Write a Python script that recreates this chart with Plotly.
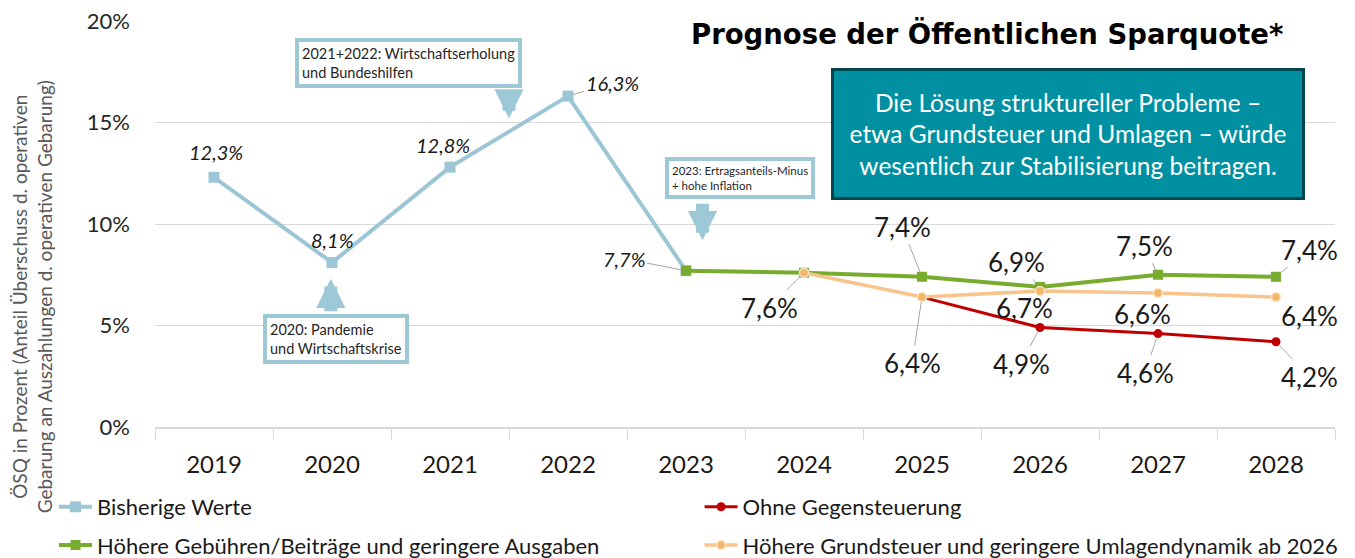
import plotly.graph_objects as go

years = ["2019", "2020", "2021", "2022", "2023", "2024", "2025", "2026", "2027", "2028"]

hist_years = ["2019", "2020", "2021", "2022", "2023"]
hist_vals = [12.3, 8.1, 12.8, 16.3, 7.7]

green_years = ["2023", "2024", "2025", "2026", "2027", "2028"]
green_vals = [7.7, 7.6, 7.4, 6.9, 7.5, 7.4]

red_years = ["2025", "2026", "2027", "2028"]
red_vals = [6.4, 4.9, 4.6, 4.2]

orange_years = ["2024", "2025", "2026", "2027", "2028"]
orange_vals = [7.6, 6.4, 6.7, 6.6, 6.4]

names = [
    "Bisherige Werte",
    "Höhere Gebühren/Beiträge und geringere Ausgaben",
    "Ohne Gegensteuerung",
    "Höhere Grundsteuer und geringere Umlagendynamik ab 2026",
]

y_tickvals = [0, 5, 10, 15, 20]
y_ticktext = ["0%", "5%", "10%", "15%", "20%"]

FONT = "Lato"
BLUE = "#9CC6D5"
GREEN = "#78AC2E"
RED = "#C00000"
ORANGE = "#F9C48C"
TEAL = "#0090A1"

fig = go.Figure()
fig.add_trace(go.Scatter(x=hist_years, y=hist_vals, name=names[0], mode="lines+markers",
                         line=dict(color=BLUE, width=4),
                         marker=dict(symbol="square", size=11, color=BLUE),
                         legend="legend"))
fig.add_trace(go.Scatter(x=green_years, y=green_vals, name=names[1], mode="lines+markers",
                         line=dict(color=GREEN, width=4),
                         marker=dict(symbol="square", size=10, color=GREEN),
                         legend="legend3"))
fig.add_trace(go.Scatter(x=red_years, y=red_vals, name=names[2], mode="lines+markers",
                         line=dict(color=RED, width=3),
                         marker=dict(symbol="circle", size=9, color=RED),
                         legend="legend2"))
fig.add_trace(go.Scatter(x=orange_years, y=orange_vals, name=names[3], mode="lines+markers",
                         line=dict(color=ORANGE, width=3.5),
                         marker=dict(symbol="circle", size=9, color="#F2B868",
                                     line=dict(color="#FBE3C6", width=1.5)),
                         legend="legend4"))


def fmt(v):
    return f"{v:.1f}".replace(".", ",") + "%"


def label(xcat, v, ax=0, ay=0, italic=False, arrow=False, size=26):
    xi = years.index(xcat)
    font = dict(family=FONT, size=size, color="#1a1a1a",
                style="italic" if italic else "normal")
    if arrow:
        fig.add_annotation(x=xi, y=v, xref="x", yref="y", text=fmt(v), showarrow=True,
                           ax=ax, ay=ay, arrowhead=0, arrowwidth=1, arrowcolor="#A6A6A6",
                           standoff=5, font=font)
    else:
        fig.add_annotation(x=xi, y=v, xref="x", yref="y", text=fmt(v), showarrow=False,
                           xshift=ax, yshift=-ay, font=font)


# historical labels (italic)
label("2019", hist_vals[0], 2, -25, italic=True, size=20)
label("2020", hist_vals[1], 0, -23, italic=True, size=20)
label("2021", hist_vals[2], -7, -22, italic=True, size=20)
label("2022", hist_vals[3], 44, -13, italic=True, arrow=True, size=20)
label("2023", hist_vals[4], -62, -12, italic=True, arrow=True, size=20)

# green labels
label("2025", green_vals[2], -20, -50, arrow=True)
label("2026", green_vals[3], -24, -25, arrow=True)
label("2027", green_vals[4], -14, -29, arrow=True)
label("2028", green_vals[5], 33, -27, arrow=True)

# orange labels
label("2024", orange_vals[0], -35, 35, arrow=True)
label("2026", orange_vals[2], -16, 17)
label("2027", orange_vals[3], -16, 21)
label("2028", orange_vals[4], 33, 19, arrow=True)

# red labels
label("2025", red_vals[0], -10, 66, arrow=True)
label("2026", red_vals[1], -19, 36, arrow=True)
label("2027", red_vals[2], -13, 39, arrow=True)
label("2028", red_vals[3], 33, 35, arrow=True)

# callout boxes
BOX_BORDER = "#9DC8D6"
fig.add_annotation(x=1.65, y=17.93, xref="x", yref="y", showarrow=False,
                   text="2021+2022: Wirtschaftserholung<br>und Bundeshilfen", align="left",
                   font=dict(family=FONT, size=14.5, color="#262626"),
                   bgcolor="white", bordercolor=BOX_BORDER, borderwidth=4, borderpad=3)
fig.add_annotation(x=2.5, y=15.2, xref="x", yref="y", ax=0, ay=-30, text="",
                   showarrow=True, arrowhead=2, arrowsize=0.45, arrowwidth=13,
                   arrowcolor=BOX_BORDER)

fig.add_annotation(x=1.03, y=4.33, xref="x", yref="y", showarrow=False,
                   text="2020: Pandemie<br>und Wirtschaftskrise", align="left",
                   font=dict(family=FONT, size=14.5, color="#262626"),
                   bgcolor="white", bordercolor=BOX_BORDER, borderwidth=4, borderpad=3)
fig.add_annotation(x=0.99, y=7.3, xref="x", yref="y", ax=0, ay=34, text="",
                   showarrow=True, arrowhead=2, arrowsize=0.45, arrowwidth=13,
                   arrowcolor=BOX_BORDER)

fig.add_annotation(x=4.46, y=12.27, xref="x", yref="y", showarrow=False,
                   text="2023: Ertragsanteils-Minus<br>+ hohe Inflation", align="left",
                   font=dict(family=FONT, size=11.5, color="#262626"),
                   bgcolor="white", bordercolor=BOX_BORDER, borderwidth=4, borderpad=3)
fig.add_annotation(x=4.14, y=9.2, xref="x", yref="y", ax=0, ay=-38, text="",
                   showarrow=True, arrowhead=2, arrowsize=0.45, arrowwidth=13,
                   arrowcolor=BOX_BORDER)

# teal message box
fig.add_annotation(x=7.24, y=14.43, xref="x", yref="y", showarrow=False,
                   text="Die Lösung struktureller Probleme –<br>etwa Grundsteuer und Umlagen – würde<br>wesentlich zur Stabilisierung beitragen.",
                   align="center", width=464, height=122,
                   font=dict(family=FONT, size=24.5, color="white"),
                   bgcolor=TEAL, bordercolor="#004650", borderwidth=3, borderpad=2)

# title
fig.add_annotation(x=6.55, y=19.4, xref="x", yref="y", showarrow=False,
                   text="<b>Prognose der Öffentlichen Sparquote*</b>",
                   font=dict(family="DejaVu Sans", size=27.5, color="#000000"))

# y axis title
fig.add_annotation(x=-0.104, y=0.32, xref="paper", yref="paper", showarrow=False,
                   xanchor="center", yanchor="middle", textangle=-90,
                   text="ÖSQ in Prozent (Anteil Überschuss d. operativen<br>Gebarung an Auszahlungen d. operativen Gebarung)",
                   font=dict(family=FONT, size=19, color="#595959"))

leg_common = dict(orientation="v", xanchor="left", yanchor="middle",
                  font=dict(family=FONT, size=22, color="#1a1a1a"),
                  itemwidth=33, bgcolor="rgba(0,0,0,0)")

fig.update_layout(
    width=1355, height=558,
    margin=dict(l=155, r=20, t=21, b=131, autoexpand=False),
    paper_bgcolor="white", plot_bgcolor="white",
    font=dict(family=FONT, color="#262626"),
    showlegend=True,
    legend=dict(x=-0.0856, y=-0.197, **leg_common),
    legend2=dict(x=0.4615, y=-0.197, **leg_common),
    legend3=dict(x=-0.0856, y=-0.291, **leg_common),
    legend4=dict(x=0.4615, y=-0.291, **leg_common),
)

fig.update_xaxes(type="category", categoryorder="array", categoryarray=years,
                 range=[-0.5, 9.5], showgrid=False, showline=True, linecolor="#D9D9D9",
                 linewidth=1.5, ticks="outside", tickson="boundaries", ticklen=11,
                 tickcolor="#D9D9D9", tickfont=dict(family=FONT, size=24, color="#1a1a1a"),
                 ticklabelstandoff=15)
fig.update_yaxes(range=[0, 20], tickvals=y_tickvals, ticktext=y_ticktext,
                 showgrid=True, gridcolor="#D9D9D9", gridwidth=1, zeroline=False,
                 showline=False, tickfont=dict(family=FONT, size=22, color="#262626"),
                 ticklabelstandoff=24)

fig.write_html("out.html", config={"displayModeBar": False},
               post_script="document.body.style.margin='0';document.body.style.padding='0';")
